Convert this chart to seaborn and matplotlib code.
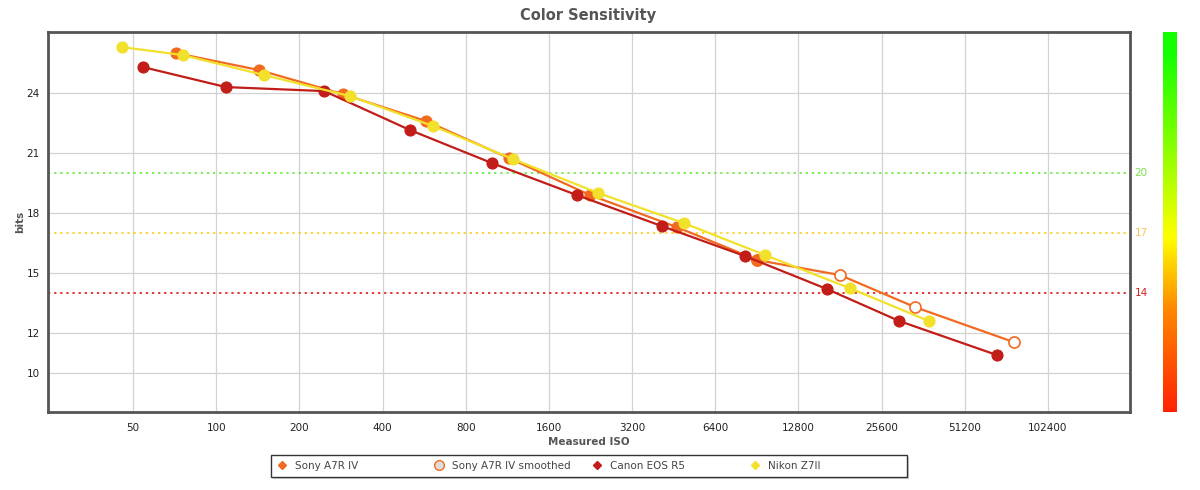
import numpy as np
import pandas as pd
import seaborn as sns
import matplotlib.pyplot as plt
from matplotlib.colors import LinearSegmentedColormap
from matplotlib.lines import Line2D
from matplotlib.patches import Rectangle
import matplotlib.transforms as mtransforms

# values
sony_iso = [71.5, 143, 287, 575, 1146, 2255, 4643, 9100]
sony_bits = [26.0, 25.15, 23.95, 22.6, 20.75, 18.9, 17.3, 15.65]

sony_smooth_iso = [18100, 33800, 77000]
sony_smooth_bits = [14.9, 13.3, 11.55]

canon_iso = [54.3, 108.5, 246, 503, 995, 2020, 4100, 8200, 16250, 29700, 67000]
canon_bits = [25.3, 24.3, 24.1, 22.15, 20.5, 18.9, 17.35, 15.85, 14.2, 12.6, 10.9]

nikon_iso = [45.6, 75.8, 149, 305, 610, 1186, 2415, 4925, 9700, 19600, 38000]
nikon_bits = [26.3, 25.9, 24.9, 23.85, 22.35, 20.7, 19.0, 17.5, 15.9, 14.25, 12.6]

x_ticks = [50, 100, 200, 400, 800, 1600, 3200, 6400, 12800, 25600, 51200, 102400]
y_ticks = [10, 12, 15, 18, 21, 24]

ref_levels = [20, 17, 14]
ref_colors = ["#55e82a", "#ffc800", "#e00000"]
ref_label_colors = ["#7be04a", "#f7c35a", "#d42020"]

c_sony = "#f26a21"
c_canon = "#c21d18"
c_nikon = "#f2e12a"

sns.set_style("white")
plt.rcParams['font.family'] = ['DejaVu Sans']

fig = plt.figure(figsize=(12, 4.9), dpi=100)
ax = fig.add_axes([0.04, 0.159, 0.9017, 0.7755])

ax.set_xscale('log', base=2)
ax.set_xlim(24.6, 203000)
ax.set_ylim(8.05, 27.05)

# grid
for t in x_ticks:
    ax.axvline(t, color="#d2d2d2", lw=0.9, zorder=0)
for t in y_ticks:
    ax.axhline(t, color="#d2d2d2", lw=0.9, zorder=0)

# reference dotted lines and right labels
trans = mtransforms.blended_transform_factory(ax.transAxes, ax.transData)
for lvl, col, lcol in zip(ref_levels, ref_colors, ref_label_colors):
    ax.axhline(lvl, color=col, lw=1.1, ls=(0, (1.5, 2.5)), zorder=1)
    ax.text(1.004, lvl, str(lvl), color=lcol, fontsize=7.5, va="center", ha="left",
            transform=trans)

# smoothed Sony (joined to last measured Sony point)
smooth_df = pd.DataFrame({
    "iso": [sony_iso[-1]] + sony_smooth_iso,
    "bits": [sony_bits[-1]] + sony_smooth_bits,
})
sns.lineplot(data=smooth_df, x="iso", y="bits", ax=ax, color=c_sony, lw=1.6,
             marker="o", markersize=8, markerfacecolor="white",
             markeredgecolor=c_sony, markeredgewidth=1.2, sort=False,
             estimator=None, zorder=3)

series = [
    (sony_iso, sony_bits, c_sony),
    (canon_iso, canon_bits, c_canon),
    (nikon_iso, nikon_bits, c_nikon),
]
for xs, ys, col in series:
    df = pd.DataFrame({"iso": xs, "bits": ys})
    sns.lineplot(data=df, x="iso", y="bits", ax=ax, color=col, lw=1.6,
                 marker="o", markersize=8, markeredgecolor=col, sort=False,
                 estimator=None, zorder=4)

ax.set_xticks(x_ticks)
ax.set_xticklabels([str(t) for t in x_ticks])
ax.minorticks_off()
ax.set_yticks(y_ticks)
ax.set_yticklabels([str(t) for t in y_ticks])
ax.tick_params(axis="both", length=0, labelsize=7.5, colors="#222222")
ax.tick_params(axis="x", pad=8)
ax.tick_params(axis="y", pad=6)

for s in ax.spines.values():
    s.set_color("#555555")
    s.set_linewidth(2)

ax.set_xlabel("Measured ISO", fontsize=7.5, fontweight="bold", color="#555555", labelpad=3)
ax.set_ylabel("bits", fontsize=7.5, fontweight="bold", color="#555555", labelpad=1)
fig.text(0.49, 0.968, "Color Sensitivity", ha="center", va="center",
         fontsize=10.5, fontweight="bold", color="#555555")

# colour bar on the right
cmap = LinearSegmentedColormap.from_list(
    "bits", [(0.0, "#ff2200"), (0.27, "#ff8800"), (0.46, "#ffff00"),
             (0.7, "#88ff00"), (0.95, "#11ff00"), (1.0, "#11ff00")])
cax = fig.add_axes([0.969, 0.159, 0.011, 0.7755])
grad = np.linspace(0, 1, 256).reshape(-1, 1)
cax.imshow(grad, aspect="auto", cmap=cmap, origin="lower")
cax.set_axis_off()

# legend: box with fixed-width items
fig.add_artist(Rectangle((273 / 1200, 11 / 490), 636 / 1200, 22 / 490,
                         transform=fig.transFigure, facecolor="#000000",
                         alpha=0.18, edgecolor="none"))
fig.add_artist(Rectangle((271 / 1200, 13 / 490), 636 / 1200, 22 / 490,
                         transform=fig.transFigure, facecolor="white",
                         edgecolor="#333333", lw=1))
handles = [
    Line2D([], [], ls="none", marker="D", markersize=4, color=c_sony),
    Line2D([], [], ls="none", marker="o", markersize=7, markerfacecolor="#dddddd",
           markeredgecolor=c_sony),
    Line2D([], [], ls="none", marker="D", markersize=4, color=c_canon),
    Line2D([], [], ls="none", marker="D", markersize=4, color=c_nikon),
]
labels = ["Sony A7R IV", "Sony A7R IV smoothed", "Canon EOS R5", "Nikon Z7II"]
item_x = [277, 434, 592, 750]
for h, lab, xp in zip(handles, labels, item_x):
    leg = fig.legend([h], [lab], loc="center left",
                     bbox_to_anchor=(xp / 1200, 24 / 490), borderaxespad=0,
                     borderpad=0, fontsize=7.5, frameon=False,
                     handletextpad=0.7, handlelength=1.0)
    for t in leg.get_texts():
        t.set_color("#444444")

fig.savefig("out.png", dpi=100)
